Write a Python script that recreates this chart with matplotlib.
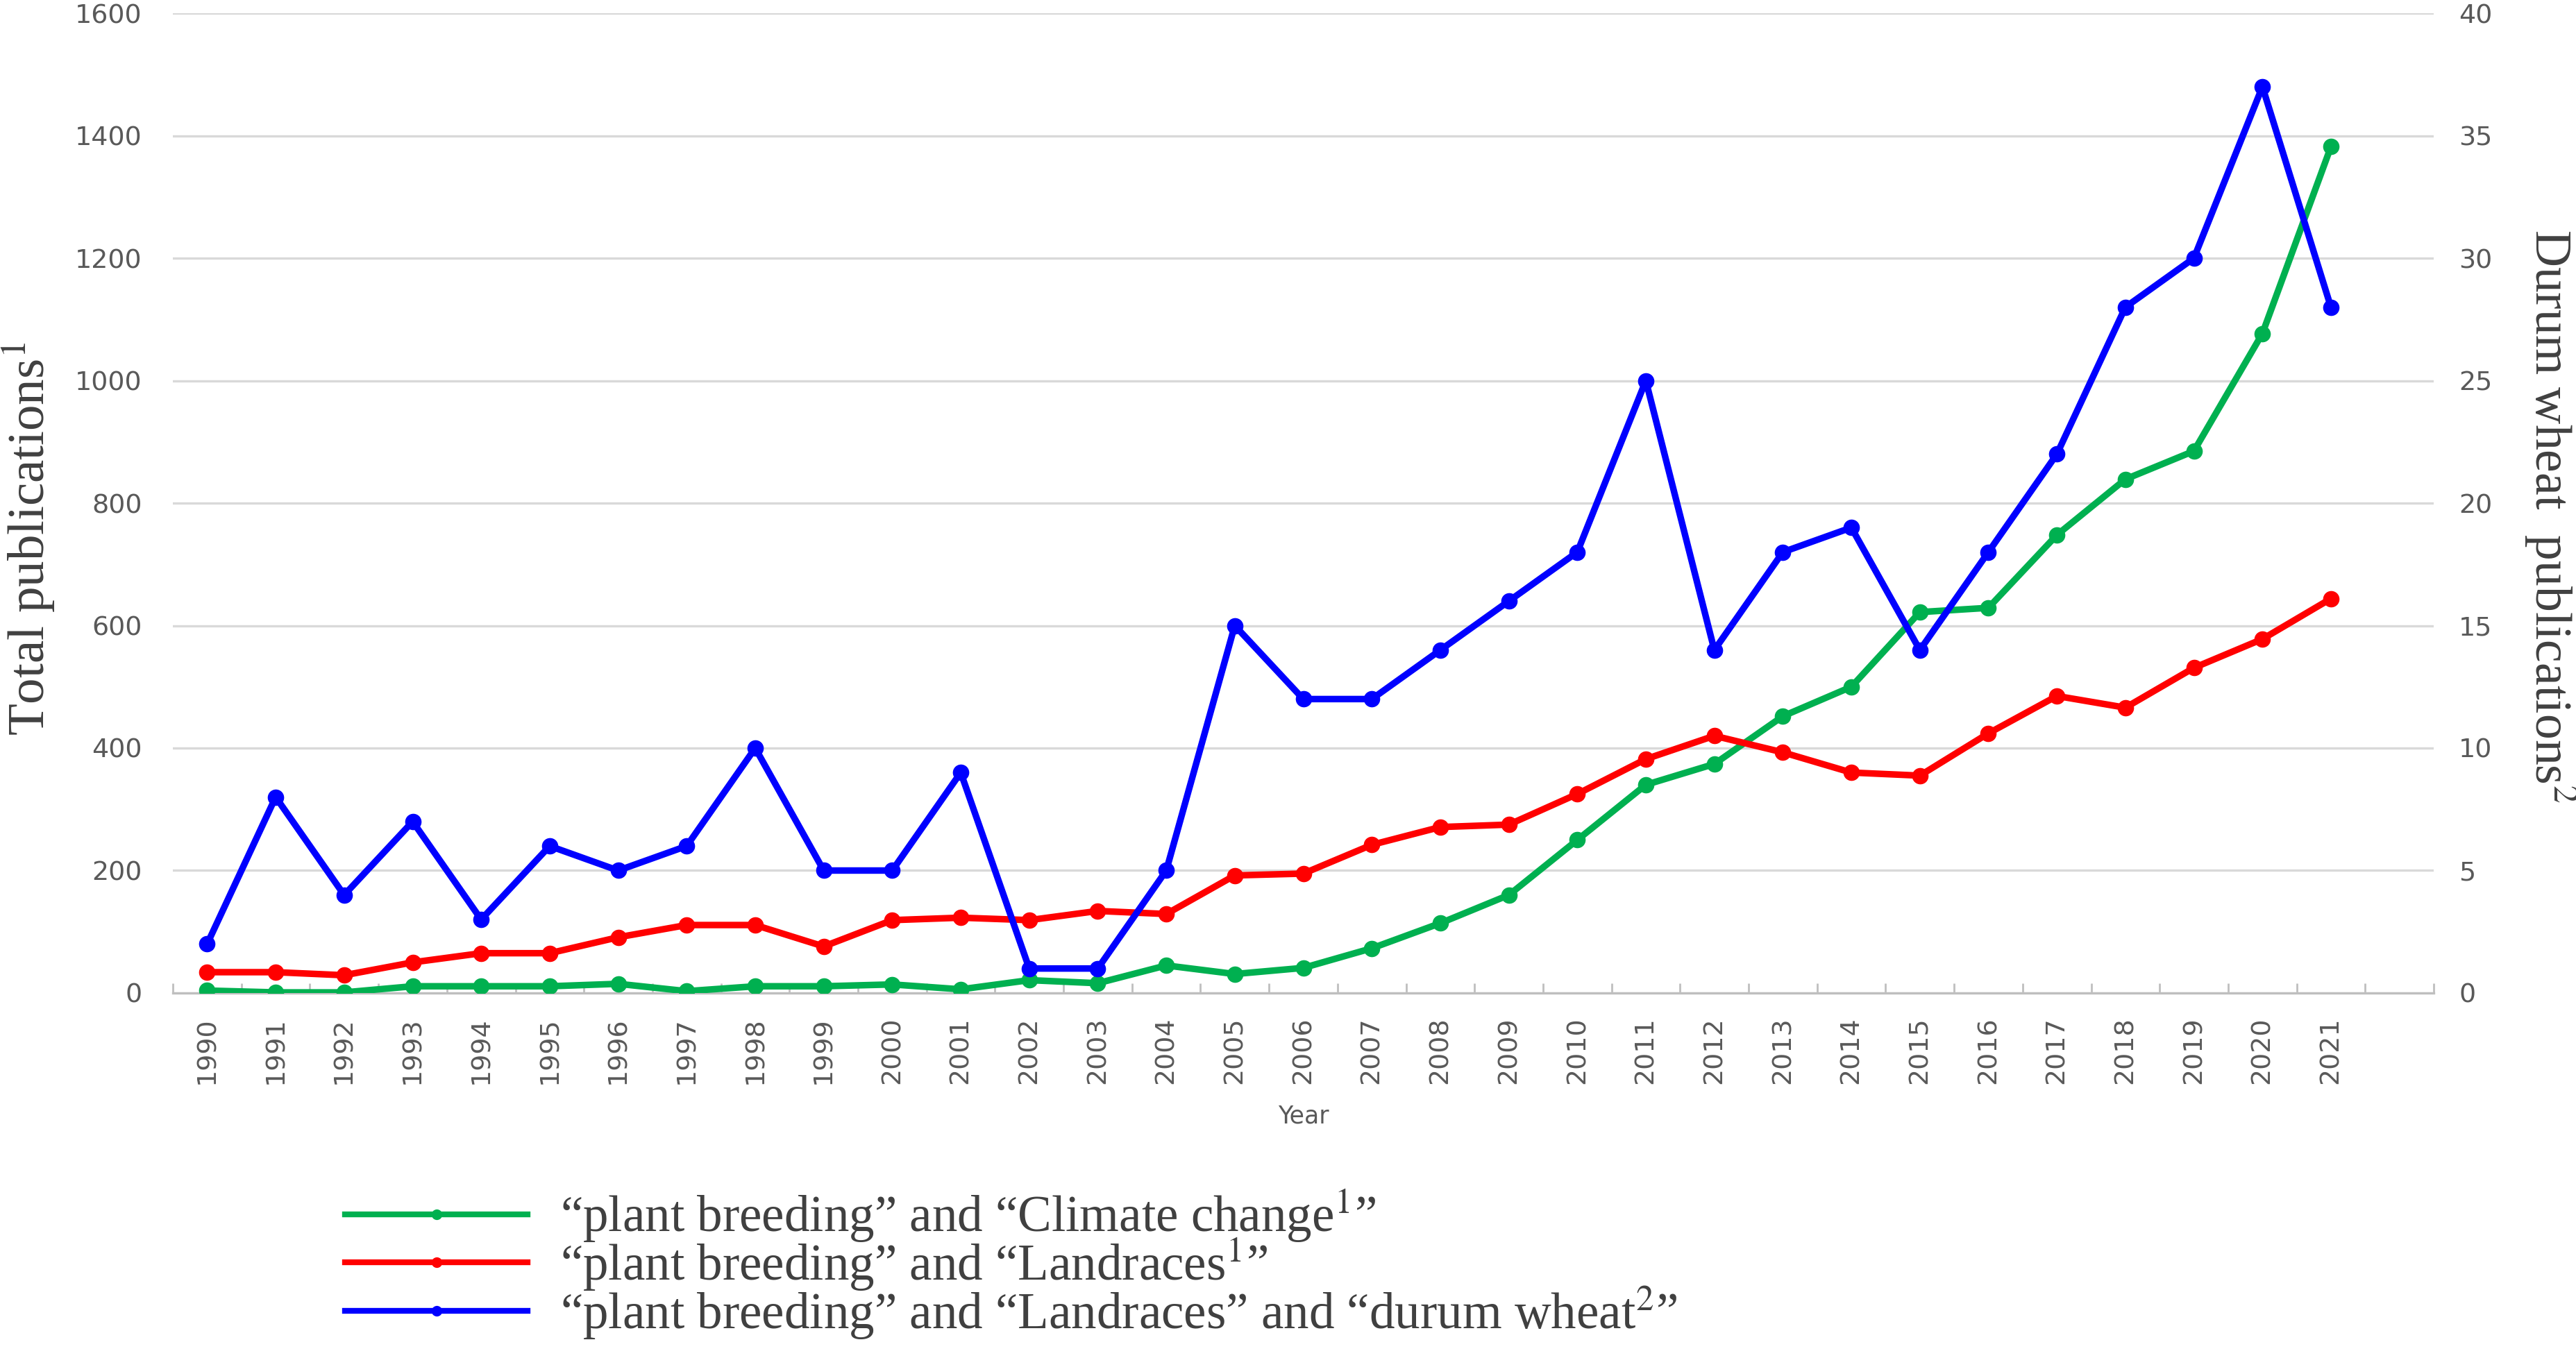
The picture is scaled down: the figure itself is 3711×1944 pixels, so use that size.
import matplotlib
matplotlib.use("Agg")
import matplotlib.pyplot as plt
import numpy as np

years = list(range(1990, 2022))
climate_change = [4, 1, 1, 11, 11, 11, 15, 3, 11, 11, 14, 6, 21, 16, 45, 31, 41, 73,
                  114, 160, 250, 340, 374, 452, 500, 622, 629, 748, 839, 885, 1077, 1382]
landraces = [34, 34, 29, 50, 65, 65, 91, 111, 111, 76, 119, 123, 119, 134, 129, 192, 195, 242,
             271, 275, 325, 382, 420, 393, 360, 355, 424, 485, 466, 531, 578, 644]
durum_wheat = [2, 8, 4, 7, 3, 6, 5, 6, 10, 5, 5, 9, 1, 1, 5, 15, 12, 12, 14, 16, 18, 25,
               14, 18, 19, 14, 18, 22, 28, 30, 37, 28]
left_ticks = list(range(0, 1601, 200))
right_ticks = list(range(0, 41, 5))

labels = [
    "\u201cplant breeding\u201d and \u201cClimate change$^{\\mathrm{1}}$\u201d",
    "\u201cplant breeding\u201d and \u201cLandraces$^{\\mathrm{1}}$\u201d",
    "\u201cplant breeding\u201d and \u201cLandraces\u201d and \u201cdurum wheat$^{\\mathrm{2}}$\u201d",
]

plt.rcParams['mathtext.fontset'] = 'stix'

GREEN = '#00B050'
RED = '#FF0000'
BLUE = '#0000FF'
TICK_C = '#595959'
TEXT_C = '#404040'
GRID_C = '#D9D9D9'

fig = plt.figure(figsize=(18.56, 9.72), dpi=200)
ax = fig.add_axes([0.0671, 0.2639, 0.8774, 0.7263])
ax2 = ax.twinx()

x = np.arange(len(years))
lw = 3.4
ms = 7.5
l1, = ax.plot(x, climate_change, color=GREEN, lw=lw, marker='o', ms=ms, zorder=3)
l2, = ax.plot(x, landraces, color=RED, lw=lw, marker='o', ms=ms, zorder=3)
l3, = ax2.plot(x, durum_wheat, color=BLUE, lw=lw, marker='o', ms=ms, zorder=3)

ax.set_xlim(-0.5, len(years) + 0.5)
ax.set_ylim(0, 1600)
ax2.set_ylim(0, 40)
ax.set_yticks(left_ticks)
ax2.set_yticks(right_ticks)
ax.set_yticklabels([str(v) for v in left_ticks])
ax2.set_yticklabels([str(v) for v in right_ticks])

ax.set_xticks(x)
ax.set_xticklabels([str(y) for y in years], rotation=90)
ax.set_xticks(np.arange(-0.5, len(years) + 1.0, 1.0), minor=True)

ax.grid(axis='y', color=GRID_C, lw=1.2, zorder=0)
ax.set_axisbelow(True)

for a in (ax, ax2):
    for s in ('top', 'left', 'right'):
        a.spines[s].set_visible(False)
ax2.spines['bottom'].set_visible(False)
ax.spines['bottom'].set_color('#BFBFBF')
ax.spines['bottom'].set_linewidth(1.2)

ax.tick_params(axis='x', which='major', length=0, pad=12.5, labelsize=13.7, labelcolor=TICK_C)
ax.tick_params(axis='x', which='minor', length=5.2, direction='in', color='#BFBFBF', width=1)
ax.tick_params(axis='y', length=0, pad=16, labelsize=13.7, labelcolor=TICK_C)
ax2.tick_params(axis='y', length=0, pad=13, labelsize=13.7, labelcolor=TICK_C)

ax.set_xlabel('Year', fontsize=12.5, color=TICK_C)
ax.xaxis.set_label_coords(0.5, -0.114)

ax.set_ylabel('Total publications$^{\\mathrm{1}}$', fontsize=27, color=TEXT_C,
              family='Liberation Serif', va='center')
ax.yaxis.set_label_coords(-0.0640, 0.464)
ax2.set_ylabel('Durum wheat  publications$^{\\mathrm{2}}$', fontsize=26.5, color=TEXT_C,
               family='Liberation Serif', rotation=270, va='center')
ax2.yaxis.set_label_coords(1.0516, 0.487)

leg = fig.legend([l1, l2, l3], labels, loc='upper left',
                 bbox_to_anchor=(497 / 3712, 1 - 1712 / 1944), frameon=False,
                 prop={'family': 'Liberation Serif', 'size': 26.3},
                 handlelength=3.6, handletextpad=0.65, labelspacing=-0.16,
                 borderpad=0, borderaxespad=0, markerscale=0.6)
for t in leg.get_texts():
    t.set_color(TEXT_C)
for h in leg.legend_handles:
    h.set_linewidth(3.0)

fig.savefig('out.png', dpi=200)
